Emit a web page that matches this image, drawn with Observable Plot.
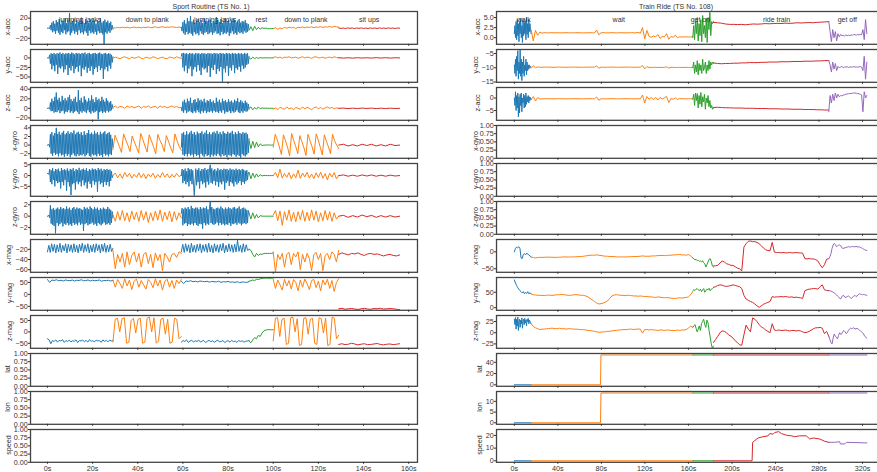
<!DOCTYPE html>
<html><head><meta charset="utf-8">
<script src="https://cdn.jsdelivr.net/npm/d3@7"></script>
<script src="https://cdn.jsdelivr.net/npm/@observablehq/plot@0.6"></script>
<style>
body{margin:0;background:#fff;overflow:hidden}
#fig{position:relative;width:877px;height:472px;overflow:hidden;font-family:"Liberation Sans",Arial,sans-serif}
.ttl{position:absolute;font-size:7px;color:#333;white-space:nowrap;transform:translate(-50%,-50%);line-height:1}
.ylab{position:absolute;font-size:7.2px;color:#333;white-space:nowrap;line-height:1;transform:translate(-50%,-50%) rotate(-90deg)}
</style></head><body><div id="fig"></div><script>
const palette = ["#1f77b4","#ff7f0e","#2ca02c","#d62728","#9467bd"];

// ---------- Sport Routine (TS No. 1) ----------
const sportTitle = "Sport Routine (TS No. 1)";
const sportBounds = [0, 29, 59.3, 89.3, 100, 129, 156];
const sportSegColor = [0, 1, 0, 2, 1, 3];
const sportLabels = ["jumping jacks","down to plank","jumping jacks","rest","down to plank","sit ups"];
const sportLabelT = [14.5, 44.2, 74.3, 94.7, 114.5, 142.5];
const sportXTicks = [0,20,40,60,80,100,120,140,160];
const sportChannels = ["x-acc","y-acc","z-acc","x-gyro","y-gyro","z-gyro","x-mag","y-mag","z-mag","lat","lon","speed"];
const sportYTicks = [[-20,0,20],[-50,-25,0],[-20,0,20,40],[-2,0,2,4],[-5,0,5],[-2,0,2],[-60,-40,-20],[-50,0,50],[-50,0,50],
  [0,0.25,0.5,0.75,1],[0,0.25,0.5,0.75,1],[0,0.25,0.5,0.75,1]];
const sportYDomains = [[-32,33.2],[-64,22],[-25,43.5],[-3.06,4.55],[-9.6,5.6],[-3.17,2.57],[-65.2,-0.6],[-66.4,70.5],[-72,72],[0,1],[0,1],[0,1]];

const sportXAcc = [
 [0,0,0.5,-1,6,-4,11,-8,14,-6, 9,-11,16,-5,12,-9,18,-13,8,-7, 15,-10,13,-4,20,-12,10,-8,17,-6, 30,-14,11,-9,14,-5,19,-11,9,-7, 16,-13,12,-4,15,-10,21,-8,13,-12, 10,-6,18,-9,14,-15,11,-5,17,-10, 12,-8,19,-11,15,-7,9,-13,16,-6, 13,-10,20,-9,11,-12,14,-32,17,-8, 12,-11,15,-6,10,-9,13,-4,6,-2],
 [1,0.5,1.5,0.8,2,1,1.8,0.6,1.5,2.2,1,1.7,0.8,2,1.2,2.5,1,1.8,2.6,1.2,2,3,1.5,2.4,1.8,2.8,2,1.5,2.2,1],
 [2,-6,12,-10,16,-13,9,-7,20,-12, 14,-9,24,-11,13,-15,17,-8,11,-12, 15,-10,18,-14,12,-6,16,-11,10,-13, 19,-9,14,-7,12,-12,15,-10,17,-8, 11,-13,14,-9,13,-6,22,-11,16,-10, 12,-14,18,-7,10,-12,15,-9,20,-11, 13,-8,17,-15,11,-10,14,-6,19,-12, 16,-9,12,-13,15,-7,18,-10,11,-8, 14,-11,13,-6,16,-9,10,-7,8,-3],
 [-4,3,-5,4,-3,2,-2,1,-0.5,0.3,-1,-1,-0.8,-0.5],
 [-1,1,-2,0.5,-1,1.5,0,2,0.5,1.8,-0.5,2,1,2.5,0.8,2.2,1.5,2.8,1,2.5,1.8,3,1.5,2.7,2.2,3.2,2,3.5,2.8,2],
 [0.5,-0.5,0.3,-0.6,0.6,-0.3,0.4,-0.7,0.5,-0.4,0.6,-0.5,0.3,-0.6,0.5,-0.3,0.4,-0.6,0.6,-0.4,0.3,-0.5,0.5,-0.3,0.4,-0.6,0.4,0]
];
const sportYAcc = [
 [0,0,-1,8,-15,12,-30,10,-20,13, -35,9,-18,12,-42,11,-25,14,-28,10, -22,13,-38,9,-30,12,-19,11,-45,13, -26,10,-33,14,-21,12,-40,9,-28,13, -24,11,-36,12,-20,10,-48,13,-27,11, -31,14,-23,9,-39,12,-26,13,-34,10, -22,11,-44,12,-29,13,-25,10,-37,12, -21,14,-32,11,-27,9,-55,12,-30,13, -24,10,-35,12,-20,11,-28,8,-12,3],
 [-1,2,0,-2,1,3,0,-2,2,-1,1,3,-1,-2,2,0,-1,3,1,-2,0,2,-1,-2,2,1,-1,3,0,-1],
 [5,12,-25,13,-35,11,-20,12,-40,10, -28,13,-22,11,-48,12,-30,9,-24,13, -36,11,-19,12,-33,10,-45,13,-25,11, -30,12,-27,10,-38,13,-21,11,-50,12, -26,10,-32,13,-18,11,-42,12,-29,10, -35,13,-24,11,-62,12,-28,10,-38,13, -21,11,-47,12,-26,10,-33,13,-19,11, -40,12,-27,10,-31,13,-23,11,-36,12, -20,10,-29,13,-25,11,-18,12,-15,4],
 [0,-3,2,-2,1,-1,0.5,0,0,0.3,0,0,0,0],
 [1,3,0,2,-1,2,1,3,0,1,2,-1,1,3,0,2,1,-1,2,3,0,1,2,-1,1,2,0,3,1,0],
 [0.5,-0.5,0.4,-0.6,0.5,-0.4,0.3,-0.5,0.6,-0.4,0.5,-0.5,0.3,0]
];
const sportZAcc = [
 [0,0,1,-2,12,-6,20,-5,15,-9, 24,-7,33,-8,18,-4,22,-10,14,-6, 26,-5,17,-11,21,-7,16,-8,23,-4, 28,-9,19,-6,15,-10,20,-7,24,-5, 13,-8,38,-12,17,-6,22,-9,12,-5, 25,-7,18,-10,14,-4,21,-8,16,-11, 27,-6,19,-9,13,-7,23,-5,17,-23, 20,-8,15,-6,24,-10,18,-7,14,-9, 21,-5,16,-8,12,-6,15,-4,8,0],
 [2,5,1,4,3,0,5,2,4,1,3,5,0,4,2,5,1,3,4,0,5,2,4,1,3,5,2,4,1,2],
 [1,-6,14,-9,18,-4,12,-10,20,-7, 15,-5,22,-8,11,-10,17,-6,19,-9, 13,-4,21,-8,16,-11,18,-6,14,-9, 20,-5,12,-10,17,-7,15,-8,19,-6, 13,-9,16,-5,11,-8,22,-7,14,-10, 18,-6,12,-9,20,-4,15,-11,17,-7, 13,-8,19,-5,14,-10,16,-6,12,-9, 18,-7,15,-4,21,-8,13,-10,17,-6, 14,-9,11,-5,16,-7,12,-6,9,-2],
 [0,3,-3,2,-2,3,-1,1,0,0.5,0,0,0.2,0],
 [-2,1,-3,2,0,-2,3,-1,1,-3,2,0,-2,3,-1,2,0,-3,1,3,-1,2,-2,1,3,0,2,-1,1,0],
 [0,0.5,-0.6,0.4,-0.5,0.6,-0.4,0.5,-0.6,0.3,-0.5,0.4,-0.3,0]
];
const sportXGyro = [
 [0,0,0.2,-0.5,2.5,-2,3,-2.5,2.2,-1.8, 2.8,-2.3,4,-2,2.6,-2.6,3.1,-1.9,2.4,-2.4, 2.9,-2.2,3.3,-2.7,2.5,-2,2.8,-2.5,3.2,-2.1, 2.6,-2.8,3,-2.3,2.7,-1.9,3.4,-2.4,2.5,-2.6, 2.9,-2.1,3.1,-2.5,2.6,-2.2,3,-2.4,2.3,-2, 3.2,-2.6,2.4,-2.3,2.8,-1.9,3.5,-2.5,2.6,-2.7, 2.9,-2.1,2.5,-2.4,3.3,-2.2,2.7,-2.6,3,-2, 2.4,-2.5,3.1,-2.3,2.6,-2.8,2.9,-2,3.2,-2.4, 2.5,-2.2,2.8,-2.6,3,-2.1,2.4,-2.3,1.5,-0.5],
 [-1,2.3,1,-0.3,-1.7,2.6,1.2,0,-1.5,2.1,0.8,-0.5,-1.8,2.7,1.3,-0.2,-1.6,2.4,1.0,-0.4,-2,2.5,1.1,0.1,-1.5,2.2,0.9,-0.6,-1.8,2.6,1.0,-0.3,-1.2],
 [-0.5,2.7,-2.2,3,-2.5,2.4,-2.1,3.2,-2.6,2.5, -2,2.9,-2.4,3.3,-2.2,2.6,-2.8,3,-2.1,2.4, -2.5,3.1,-2.3,2.7,-2.9,2.8,-2,3.2,-2.4,2.5, -2.7,2.9,-2.1,3.4,-2.5,2.6,-2.3,3,-2.8,2.5, -2.2,2.9,-2.6,3.1,-2.2,2.7,-2.5,3.3,-2,2.6, -2.4,3,-2.7,2.5,-2.1,3.2,-2.5,2.8,-2.3,2.6, -2.8,3.1,-2.2,2.7,-2.4,2.9,-2.6,3.3,-2.1,2.5, -2.3,3,-2.7,2.6,-2.2,3.2,-2.5,2.8,-2.9,2.6, -2.1,3,-2.4,2.7,-2.6,2.9,-2.2,2.5,-1.8,1.5],
 [1,-0.8,0.9,-0.6,0.7,-0.4,0.3,-0.1,0,0,0.05,0,0,0],
 [-0.5,2.5,1.2,-0.4,-2.2,2.4,1,-0.5,-2.5,2.7,1.1,-0.3,-2,2.2,0.8,-0.6,-2.4,2.5,1.0,-0.4,-2.1,2.6,1.2,-0.5,-2.3,2.4,0.9,-0.4,-2,2.5,1,0,-0.8],
 [0,0.2,-0.2,0.1,-0.2,0.2,-0.1,0.2,-0.2,0.1,-0.2,0.2,-0.1,0]
];
const sportYGyro = [
 [1,1,0.5,3,-3,2.5,-4,3.5,-2,2, -5,3,-2.5,2.8,-3.5,3.2,-3,2,-6,3.5, -3,2.6,-4.5,3,-2,2.4,-7,3.3,-3,2.2, -5,3.1,-9,2.7,-4,3.4,-3.5,2,-6.5,3, -2.8,2.5,-4,3.6,-3,2.3,-5,2.9,-2.2,3.2, -4.5,2.6,-3.2,3.4,-6,2.1,-2.7,3,-3.8,2.5, -5.5,3.3,-2.4,2.8,-4.2,3.1,-3,2.4,-7.5,3.5, -2.6,2.7,-4,3.2,-3.3,2.2,-5.2,3,-2.9,2.6, -4.4,3.1,-3,2.5,-5,2.8,-2.5,2,-1,0],
 [0,1.2,-1,0.8,-1.3,1.5,-0.5,1,-1.2,0.6,-0.8,1.3,-1,0.9,-1.4,0.7,-0.6,1.1,-1.2,0.5,-0.9,1.4,-0.7,0.8,-1.1,0.6,-0.8,1,-0.5,0.2],
 [0,3,-3.5,2.5,-2.5,3.2,-4,2,-3,3.5, -5,2.8,-2.5,3,-4,2.4,-3.5,-9.3,-2.8,3.2, -4.5,2.6,-3,3.4,-6,2.2,-2.6,3,-4,2.8, -3.2,3.5,-5.5,2.5,-2.8,3.1,-4.2,2.7,5,-3.3, 3.3,-3.8,2.4,-2.5,3,-4.5,2.2,-2.9,3.4,-5.2, 2.6,-3.1,3,-4,2.5,-2.7,3.2,-6.5,2.8,-3.4, 3.1,-2.6,2.4,-4.8,3.3,-3,2.7,-3.6,2.9,-5, 2.5,-2.8,3.2,-4.1,2.6,-3.3,3,-2.5,2.4,-4.4, 3.1,-3,2.7,-3.8,2.2,-2.6,2.5,-2,1.5,1],
 [1.5,-1.5,1.2,-1,0.8,-0.6,0.4,-0.2,0.1,0,0,0,0,0],
 [0,1.5,-1,3,-1.2,1,-0.8,1.4,-1.5,0.8,-1,2.5,-1.3,1.2,-0.6,1.5,-1.1,0.7,-1.4,1.3,-0.9,1.6,-1.2,0.9,-2,1.1,-0.7,1.4,-1.5,0],
 [0,0.3,-0.3,0.2,-0.3,0.3,-0.2,0.3,-0.3,0.2,-0.3,0.2,-0.2,0]
];
const sportZGyro = [
 [0,0,0.2,-0.3,1.9,-1.3,1.2,-1.5,1.4,-1.7, 1.1,-3,1.3,-1.2,1.5,-1.7,1.2,-1.4,1.6,-1.1, 1.3,-1.8,1.4,-1.3,1.2,-1.5,1.7,-1.2,1.3,-1.6, 1.5,-1.4,1.1,-1.7,1.4,-1.2,1.6,-1.5,1.2,-1.3, 1.5,-1.6,1.3,-1.1,1.4,-1.5,1.2,-1.3,1.1,-2.6, 1.6,-1.4,1.3,-1.2,1.5,-1.6,1.2,-1.4,1.7,-1.3, 1.4,-1.1,1.2,-1.5,1.6,-1.3,1.3,-1.7,1.5,-1.2, 1.1,-1.4,1.4,-1.6,1.2,-1.3,1.5,-1.1,1.3,-1.5, 1.2,-1.4,1.6,-1.2,1.3,-1.5,1.1,-1.2,0.8,-0.3],
 [0.3,-0.9,0.8,-0.7,1,-0.8,0.6,-1,0.9,-0.6,0.7,-0.9,1,-0.7,0.8,-1.1,0.6,-0.8,0.9,-0.7,1.1,-0.9,0.7,-0.6,0.9,-1,0.8,-0.7,0.6,-0.3],
 [0.5,1.4,-1.6,1.2,-1.3,1.5,-1.2,1.3,-1.7,1.6, -1.4,1.2,-1.5,1.8,-1.3,1.4,-1.6,1.3,-1.2,1.5, -1.5,1.5,-1.7,1.2,-1.3,1.6,-1.4,1.3,-2.2,1.5, -1.2,1.4,-1.6,1.7,-1.3,1.2,-1.5,1.4,2.5,-1.2, 1.6,-1.4,1.3,-1.5,1.2,-1.3,1.4,-1.1,1.5,-1.6, 1.3,-1.2,1.7,-1.5,1.4,-1.3,1.2,-1.6,1.5,-1.4, 1.3,-1.5,1.6,-1.2,1.4,-1.7,1.2,-1.3,1.5,-1.4, 1.6,-1.2,1.3,-1.5,1.4,-1.1,1.7,-1.3,1.2,-1.6, 1.4,-1.3,1.5,-1.2,1.3,-1.4,1.1,-1.2,1,0.5],
 [0.5,-0.5,0.6,-0.4,0.3,-0.3,0.1,0,0,0,0,0,0,0],
 [0.2,1,-0.8,0.9,-1.6,0.8,-0.7,1.1,-0.9,0.7,-1,0.8,-0.6,1,-0.9,0.7,-0.8,1.1,-0.7,0.9,-1,0.6,-0.8,1,-0.7,0.8,-0.9,0.6,-0.5,0],
 [0,0.15,-0.2,0.1,-0.15,0.2,-0.1,0.15,-0.2,0.1,-0.15,0.1,-0.15,0]
];
const sportXMag = [
 [-25,-12,-26,-9,-24,-10,-27,-11,-25,-8,-26,-12,-23,-9,-27,-10,-24,-11,-26,-9,-25,-12,-27,-10,-23,-8,-26,-11,-24,-9,-27,-12,-25,-10,-26,-9,-23,-11,-27,-10,-24,-8,-26,-12,-25,-10,-24,-18],
 [-22,-58,-30,-45,-28,-55,-25,-50,-32,-25,-45,-28,-55,-30,-26,-48,-30,-56,-27,-42,-30,-62,-28,-35,-45,-30,-28,-36,-25,-28],
 [-25,-10,-26,-9,-24,-11,-27,-8,-25,-12,-26,-10,-23,-9,-27,-11,-24,-10,-26,-8,-25,-12,-27,-9,-24,-11,-26,-10,-23,-8,-27,-12,-25,-9,-24,-11,-26,-10,-25,-2,-24,-12,-26,-9,-25,-11,-22,-20],
 [-20,-22,-30,-35,-28,-32,-29,-30,-28,-28,-28,-28,-28,-27],
 [-25,-65,-30,-40,-28,-55,-30,-26,-50,-28,-35,-25,-60,-30,-45,-28,-38,-62,-30,-26,-40,-28,-62,-32,-28,-40,-25,-30,-45,-22],
 [-30,-27,-29,-31,-28,-29,-27,-30,-32,-29,-28,-30,-29,-31,-33,-31,-30,-32,-33,-31]
];
const sportYMag = [
 [62,50,60,58,61,57,59,56,60,58,57,60,56,59,58,61,57,58,60,56,59,57,58,60,55,58,57,59,56,58],
 [60,30,62,45,25,65,35,60,20,55,64,30,58,40,22,62,50,28,65,35,60,18,55,63,30,58,25,60,45,62],
 [55,45,56,54,57,53,55,52,56,54,53,55,51,54,53,52,55,50,53,52,54,51,52,50,53,49,52,51,50,53],
 [55,57,60,58,63,62,65,67,68,68,68,67,68,68],
 [62,25,60,40,18,63,35,58,22,62,50,15,60,30,64,45,20,58,62,28,55,15,60,40,63,25,58,12,50,65],
 [-60,-58,-62,-60,-59,-61,-63,-60,-58,-61,-62,-59,-60,-58,-61,-60,-59,-60,-62,-64]
];
const sportZMag = [
 [-30,-35,-52,-38,-42,-35,-45,-37,-40,-34,-46,-38,-42,-36,-44,-39,-41,-35,-47,-38,-40,-36,-43,-37,-45,-34,-41,-39,-44,-36,-40,-38,-46,-35,-42,-37,-44,-36,-40,-38],
 [-45,55,60,0,58,62,-50,-45,50,60,-5,55,60,-50,-45,60,65,0,62,-50,-40,55,60,-10,55,-50,-45,60,55,-30,-20],
 [-45,-38,-42,-35,-46,-40,-37,-44,-39,-42,-36,-45,-40,-38,-47,-41,-37,-43,-39,-46,-40,-36,-44,-42,-38,-47,-41,-39,-45,-37,-43,-40,-46,-38,-42,-39,-45,-41,-40,-38],
 [-40,-48,-35,-25,-30,-15,-20,-5,5,8,10,10,9,10],
 [-40,60,62,-20,55,60,-55,-50,62,65,0,58,-60,-55,60,62,-10,55,60,-50,-55,62,58,-5,60,-60,-55,65,60,-30,-15],
 [-55,-52,-56,-54,-50,-53,-57,-54,-52,-56,-55,-53,-51,-55,-57,-54,-53,-56,-54,-52]
];

// ---------- Train Ride (TS No. 108) ----------
const trainTitle = "Train Ride (TS No. 108)";
const trainBounds = [0, 15.4, 164, 183, 289, 324];
const trainSegColor = [0, 1, 2, 3, 4];
const trainLabels = ["walk","wait","get on","ride train","get off"];
const trainLabelT = [8.6, 96, 171, 241, 306];
const trainXTicks = [0,40,80,120,160,200,240,280,320];
const trainChannels = ["x-acc","y-acc","z-acc","x-gyro","y-gyro","z-gyro","x-mag","y-mag","z-mag","lat","lon","speed"];
const trainYTicks = [[0,2.5,5],[-15,-10,-5],[-5,0],[0,0.25,0.5,0.75,1],[0,0.25,0.5,0.75,1],[0,0.25,0.5,0.75,1],
  [-50,0],[0,50],[-25,0,25],[0,20,40],[0,5,10],[0,10,20]];
const trainYDomains = [[-1.65,6.5],[-15.1,-3.6],[-8.9,4.2],[0,1],[0,1],[0,1],[-60.4,36.4],[-8.6,97.9],[-34.8,38.4],[-2.65,55.65],[-0.7,14.6],[-1.18,24.7]];

const trainXAcc = [
 [1,3,0,4,-0.5,4.5,0.5,3.5,-1,4,1,4.8,0,3,-1.2,4.5,0.5,3.8,1,4.2,-0.5,5,0.8,3.5,0,4.5,1.5,3.5,2,1],
 [2.0,-0.8,1.8,0.6,1.4,1.1,1.25,1.2,1.2,1.25,1.2,1.2,1.25,1.2,1.2,1.2,1.25,1.2,1.2,1.2,1.2,1.25,1.2,1.2,1.2,1.2,1.2,1.25,1.2,1.2,1.9,0.7,1.2,1.25,1.2,1.2,1.2,1.25,1.2,1.2,1.2,1.25,1.2,1.2,1.2,1.2,1.25,1.2,1.2,1.3,1.1,2.5,-0.3,1.8,0.3,0.1,0.4,0.2,0.8,-0.2,0.3,0.2,1.0,-0.4,0.3,0.1,0.6,0.0,0.2,0.15,0.2,0.2,0.15,0.2,0.2],
 [0,3,-0.5,4,1,5,-0.8,3.5,0.5,4.5,-1,5.5,1,3,0,4.8,-1.2,5,2,6.3,0.5,4,3.5,4],
 [3.8,3.7,3.6,3.4,3.3,3.3,3.25,3.3,3.2,3.3,3.4,3.35,3.4,3.5,3.45,3.5,3.55,3.5,3.6,3.55,3.6,3.7,3.65,3.7,3.75,3.7,3.8,3.85,3.9,4.0],
 [4,1.5,-1,2,0,1.5,-0.8,1,0.2,0.8,0.5,0.6,0.4,0.7,0.5,0.6,0.5,0.7,0.6,0.8,0.7,0.6,0.8,0.7,0.8,0.7,2,-0.5,4.5,1]
];
const trainYAcc = [
 [-9,-12,-7,-13,-6,-11,-4,-14,-8,-12,-3.6,-13,-7,-14.5,-8,-12,-6,-13,-9,-11,-7,-12.5,-8,-11,-9,-10.5,-9,-10,-9.5,-9.8],
 [-10.2,-9.3,-10,-9.7,-9.8,-9.85,-9.8,-9.75,-9.8,-9.8,-9.85,-9.8,-9.8,-9.75,-9.8,-9.8,-9.85,-9.8,-9.8,-9.8,-9.75,-9.8,-9.8,-9.85,-9.8,-9.8,-9.8,-9.75,-9.8,-9.8,-9.3,-10.2,-9.8,-9.8,-9.85,-9.8,-9.8,-9.75,-9.8,-9.8,-9.85,-9.8,-9.8,-9.8,-9.75,-9.8,-9.8,-9.85,-9.8,-9.8,-9.8,-9.2,-10.4,-9.6,-9.9,-9.85,-9.9,-9.8,-9.95,-9.85,-9.9,-9.85,-9.7,-10.1,-9.9,-9.85,-9.9,-9.9,-9.85,-9.9,-9.9,-9.85,-9.9,-9.9,-9.85],
 [-10,-8,-12,-9,-11.5,-7.5,-12.5,-8.5,-11,-9,-12,-7,-11,-10,-8,-12,-9,-11,-7.5,-10.5,-8,-9,-8,-8.5],
 [-8.3,-8.5,-8.6,-8.5,-8.5,-8.4,-8.4,-8.3,-8.3,-8.2,-8.2,-8.2,-8.1,-8.1,-8.0,-8.0,-8.0,-7.9,-7.9,-7.9,-7.8,-7.8,-7.8,-7.7,-7.7,-7.7,-7.6,-7.6,-7.5,-7.5],
 [-7.5,-9,-11.5,-8,-10.5,-8.5,-11,-9.5,-10,-9.8,-9.5,-10,-9.7,-9.8,-9.6,-9.9,-9.7,-9.8,-9.7,-9.6,-9.8,-9.7,-9.8,-9.7,-9.6,-9.8,-11,-6,-14,-8]
];
const trainZAcc = [
 [0,-3,2.5,-5,1,-4,2,-7.5,0.5,-6,1.5,-3,2,-5.5,0,-2,1.5,-4,1,-3.5,2,-2.5,0.5,-1.5,1,-2,0.5,-1,0.2,-0.5],
 [-0.8,0.6,-1.2,0.2,-0.4,-0.3,-0.3,-0.25,-0.3,-0.3,-0.35,-0.3,-0.3,-0.25,-0.3,-0.3,-0.35,-0.3,-0.3,-0.3,-0.25,-0.3,-0.3,-0.35,-0.3,-0.3,-0.3,-0.25,-0.3,-0.3,0.4,-0.9,-0.3,-0.3,-0.35,-0.3,-0.3,-0.25,-0.3,-0.3,-0.35,-0.3,-0.3,-0.3,-0.25,-0.3,-0.3,-0.35,-0.3,-0.3,-0.3,1.2,-2.0,0.6,-0.5,0.2,-0.6,0.3,-0.8,0.2,-0.4,0.1,0.6,-1.8,-0.2,-0.5,0.1,-0.6,-0.2,-0.3,-0.3,-0.35,-0.3,-0.3,-0.3],
 [-0.5,1.5,-3,2,-1,1.8,-4,1,-2.5,2.2,-3.5,0.5,-1.5,1.5,-4.5,0,-2,1,-3.5,-1,-4,-3,-4.5,-4],
 [-3.8,-3.7,-3.8,-3.9,-3.9,-4.0,-4.0,-4.0,-4.1,-4.1,-4.1,-4.2,-4.2,-4.2,-4.3,-4.3,-4.3,-4.4,-4.4,-4.4,-4.5,-4.5,-4.5,-4.6,-4.6,-4.6,-4.7,-4.7,-4.8,-4.8],
 [-5.5,1,-2,1.5,-1,2,0,1.5,0.5,1,0.8,1.2,1.3,1.5,1.6,1.7,1.8,1.8,1.9,2.0,2.0,1.9,1.8,1.7,1.5,1.2,-5.5,2.5,0,1]
];
const trainXMag = [
 [0,10,14,12,15,10,-18,-20,-8,-5,-9,-4,-6,-10,-12,-15],
 [-15,-17,-18,-17,-16,-16.5,-16,-16,-15.5,-16,-16,-16.5,-16,-16,-15.5,-15,-15,-15.5,-15,-15,-15,-14.5,-14,-14,-13,-12,-11,-10,-10,-10,-9,-10,-11,-12,-13,-13,-14,-14,-14,-15,-15,-15,-15,-15,-15,-14.5,-14,-14,-14,-13.5,-13,-12,-13,-13,-13,-12.5,-12,-12,-11,-11,-10.5,-11,-11,-10,-10,-9,-9,-8.5,-8,-9,-9,-10,-8,-12,-18],
 [-18,-20,-24,-22,-26,-25,-28,-27,-30,-26,-32,-35,-45,-38,-30,-22,-20,-28,-42,-45],
 [-42,-41,-40,-33,-27,-30,-35,-37,-40,-40,-44,-48,-50,-56,14,24,31,32,30,30,28,24,18,11,6,4,3,28,-1,-2,-2,-3,-2,-3,-3,-2,-3,-3,-2,-3,-3,-4,-20,-21,-20,-21,-21,-23,-27,-38,-47,-38,-22,-20],
 [-20,-15,-5,10,20,25,22,15,17,20,20,18,12,10,11,12,13,14,15,15,14,15,16,15,15,16,15,14,15,13,12,10,8,6,5,4]
];
const trainYMag = [
 [90,80,72,65,60,55,52,48,52,45,50,46,52,45,48,45],
 [45,42,41,40,40,40,39,40,41,40,40,41,42,42,43,42,41,40,40,41,42,42,41,40,40,38,35,30,25,20,15,12,13,15,18,22,30,38,41,42,41,40,40,39,40,40,39,38,38,37,38,37,36,36,35,35,34,33,35,34,33,32,33,32,31,30,30,31,32,31,32,33,35,42,52],
 [55,58,56,60,62,58,55,60,52,58,62,50,55,60,58,63,55,60,62,65],
 [66,68,72,74,73,70,69,70,72,74,72,70,68,62,40,28,24,20,17,12,6,1,6,11,14,17,20,36,34,35,35,36,35,36,35,34,35,33,34,33,32,30,55,58,60,61,62,62,60,68,74,58,56,55],
 [55,55,54,52,50,48,45,42,38,35,30,28,35,40,38,33,34,36,38,35,32,30,34,38,40,36,38,42,45,44,43,42,43,42,41,40]
];
const trainZMag = [
 [30,18,34,8,30,15,35,5,25,30,12,28,20,33,10,26,30,18,32,22,28,15,30,25,32,20,28,26,22,20],
 [20,14,11,9,7,8,8,9,9,10,10,9,9,10,9,9,8,9,9,8,8,8,7,7,7,6,5,5,4,3,2,1,1,2,2,3,3,4,5,5,6,6,7,7,7,8,8,7,8,8,8,-1,7,7,6,7,6,6,5,6,6,5,6,6,5,5,5,6,5,6,6,7,10,15,12],
 [12,15,18,10,2,8,15,5,20,25,30,18,12,28,22,5,-10,-25,-35,-30],
 [-22,-15,-8,0,4,3,0,-5,-8,-12,-18,-22,-27,-28,-5,17,8,2,33,30,25,18,13,10,6,3,0,20,6,5,6,5,5,6,5,4,5,5,4,5,4,2,0,1,3,6,9,11,11,12,10,-2,3,-8],
 [-8,-15,-22,-25,-12,-3,-8,-10,-14,-6,0,-4,-2,3,5,2,-2,0,5,8,10,9,10,11,8,9,10,8,6,4,2,0,-3,-8,-10,-12]
];
const trainLatT = [0, 15.4, 79.2, 79.6, 164, 183, 289, 324];
const trainLatV = [0, 0, 0, 53, 53, 53, 53, 53];
const trainLonT = [0, 15.4, 79.2, 79.6, 164, 183, 289, 324];
const trainLonV = [0, 0, 0, 13.9, 13.9, 13.9, 13.9, 13.9];
const trainSpeedT = [0, 15.4, 164, 183, 218.5, 219, 220.9, 224, 228.6, 233.2, 234.7, 237.8, 239.3, 243, 245.4, 250, 254.6, 257.7, 262.3, 268.4, 271.5, 274.6, 280.7, 285.3, 289, 294.5, 299, 299.6, 303.7, 305.2, 324];
const trainSpeedV = [0, 0, 0, 0, 0, 14.6, 15.9, 18, 19, 19.7, 21.5, 21, 22.3, 23, 21.5, 20.2, 19.7, 19, 19.7, 19.7, 17.2, 18, 17.2, 15.4, 14.6, 14.6, 15.1, 13.3, 13.3, 14.6, 14.1];

// ---------- helpers ----------
function fromSegments(segs, bounds) {
  const rows = [];
  segs.forEach((vals, k) => {
    const t0 = bounds[k], t1 = bounds[k + 1], n = vals.length;
    vals.forEach((v, j) => rows.push({t: t0 + (t1 - t0) * j / (n - 1), v, seg: k}));
  });
  return rows;
}
function fromPairs(T, V, bounds) {
  const rows = [];
  for (let k = 0; k < bounds.length - 1; k++) {
    T.forEach((t, i) => { if (t >= bounds[k] && t <= bounds[k + 1]) rows.push({t, v: V[i], seg: k}); });
  }
  return rows;
}

const fig = document.getElementById("fig");
const FONT = "'Liberation Sans', Arial, sans-serif";
const FRAME_TOP0 = 10.7, PITCH = 38.02, FH = 32.8;

function panel(o) {
  const mt = 3, mb = o.last ? 11 : 3, ml = 30, mr = 3;
  const marks = [];
  if (o.rows) marks.push(Plot.line(o.rows, {x: "t", y: "v", z: "seg", stroke: d => palette[o.segColor[d.seg]], strokeWidth: 1}));
  marks.push(Plot.frame({stroke: "#444", strokeWidth: 1.3}));
  marks.push(Plot.axisY({ticks: o.yTicks, tickFormat: o.yFmt, tickSize: 2, tickPadding: 0.8, label: null}));
  marks.push(Plot.axisX({ticks: o.xTicks, tickSize: 2, tickPadding: 1.5, tickFormat: o.last ? (d => d + "s") : (() => ""), label: null}));
  if (o.texts) marks.push(Plot.text(o.texts, {x: "t", text: "label", frameAnchor: "top", dy: 5.3, fill: "#333", fontSize: 7}));
  const svg = Plot.plot({
    width: o.width, height: FH + mt + mb, marginTop: mt, marginBottom: mb, marginLeft: ml, marginRight: mr,
    x: {domain: o.xDomain}, y: {domain: o.yDomain}, color: {type: "identity"},
    style: {fontFamily: FONT, fontSize: "7.2px", color: "#333", background: "transparent", overflow: "visible"},
    marks
  });
  svg.style.position = "absolute";
  svg.style.left = o.left + "px";
  svg.style.top = (o.frameTop - mt) + "px";
  fig.appendChild(svg);
  const lab = document.createElement("div");
  lab.className = "ylab"; lab.textContent = o.label;
  lab.style.left = (o.labelX - 0.5) + "px";
  lab.style.top = (o.frameTop + FH / 2) + "px";
  fig.appendChild(lab);
}

function fmtFor(ticks) {
  if (ticks.includes(0.25)) return d3.format(".2f");
  if (ticks.some(t => t % 1 !== 0)) return d3.format(".1f");
  return d3.format("");
}

const sportData = [sportXAcc, sportYAcc, sportZAcc, sportXGyro, sportYGyro, sportZGyro, sportXMag, sportYMag, sportZMag, null, null, null];
const sportLabelX = [8.3, 8.3, 8.3, 15, 15, 15, 9.3, 10, 10, 8.3, 8.3, 9.3];
sportChannels.forEach((ch, i) => {
  panel({
    left: 0, width: 420, frameTop: FRAME_TOP0 + PITCH * i, last: i === 11,
    xDomain: [-7.5, 163.9], xTicks: sportXTicks,
    yDomain: sportYDomains[i], yTicks: sportYTicks[i], yFmt: fmtFor(sportYTicks[i]),
    label: ch, labelX: sportLabelX[i], segColor: sportSegColor,
    rows: sportData[i] ? fromSegments(sportData[i], sportBounds) : null,
    texts: i === 0 ? sportLabels.map((l, k) => ({label: l, t: sportLabelT[k]})) : null
  });
});

const trainData = [
  fromSegments(trainXAcc, trainBounds), fromSegments(trainYAcc, trainBounds), fromSegments(trainZAcc, trainBounds),
  null, null, null,
  fromSegments(trainXMag, trainBounds), fromSegments(trainYMag, trainBounds), fromSegments(trainZMag, trainBounds),
  fromPairs(trainLatT, trainLatV, trainBounds), fromPairs(trainLonT, trainLonV, trainBounds), fromPairs(trainSpeedT, trainSpeedV, trainBounds)
];
const trainLabelX = [478.3, 476.7, 478.3, 476.5, 476.5, 476.5, 476, 476, 476, 480.7, 480.7, 480.7];
trainChannels.forEach((ch, i) => {
  panel({
    left: 465.5, width: 421, frameTop: FRAME_TOP0 + PITCH * i, last: i === 11,
    xDomain: [-16.4, 340.2], xTicks: trainXTicks,
    yDomain: trainYDomains[i], yTicks: trainYTicks[i], yFmt: fmtFor(trainYTicks[i]),
    label: ch, labelX: trainLabelX[i], segColor: trainSegColor,
    rows: trainData[i],
    texts: i === 0 ? trainLabels.map((l, k) => ({label: l, t: trainLabelT[k]})) : null
  });
});

function title(text, x, y) {
  const d = document.createElement("div");
  d.className = "ttl"; d.textContent = text;
  d.style.left = x + "px"; d.style.top = y + "px";
  fig.appendChild(d);
}
title(sportTitle, 211, 5.8);
title(trainTitle, 676, 5.8);
</script></body></html>
